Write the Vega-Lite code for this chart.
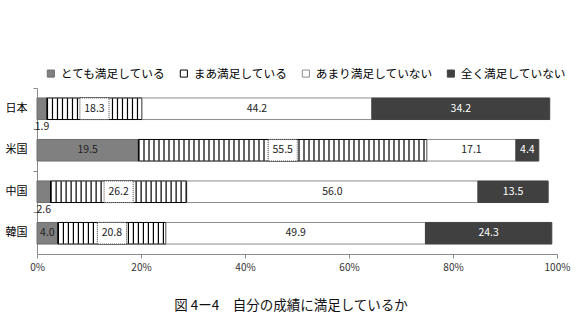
{
  "$schema": "https://vega.github.io/schema/vega-lite/v6.json",
  "width": 520,
  "height": 166,
  "autosize": "none",
  "padding": {"left": 37, "top": 88, "right": 21, "bottom": 71},
  "background": "white",
  "config": {"view": {"stroke": null}, "font": "Noto Sans CJK JP"},
  "title": {"text": "図 4ー4　自分の成績に満足しているか", "orient": "bottom", "fontSize": 13.5, "fontWeight": "normal", "offset": 27, "color": "#111", "dx": -6, "font": "Noto Sans CJK JP"},
  "data": {"values": [
    {"country": "日本", "cat": "とても満足している", "order": 1, "value": 1.9},
    {"country": "日本", "cat": "まあ満足している", "order": 2, "value": 18.3},
    {"country": "日本", "cat": "あまり満足していない", "order": 3, "value": 44.2},
    {"country": "日本", "cat": "全く満足していない", "order": 4, "value": 34.2},
    {"country": "米国", "cat": "とても満足している", "order": 1, "value": 19.5},
    {"country": "米国", "cat": "まあ満足している", "order": 2, "value": 55.5},
    {"country": "米国", "cat": "あまり満足していない", "order": 3, "value": 17.1},
    {"country": "米国", "cat": "全く満足していない", "order": 4, "value": 4.4},
    {"country": "中国", "cat": "とても満足している", "order": 1, "value": 2.6},
    {"country": "中国", "cat": "まあ満足している", "order": 2, "value": 26.2},
    {"country": "中国", "cat": "あまり満足していない", "order": 3, "value": 56.0},
    {"country": "中国", "cat": "全く満足していない", "order": 4, "value": 13.5},
    {"country": "韓国", "cat": "とても満足している", "order": 1, "value": 4.0},
    {"country": "韓国", "cat": "まあ満足している", "order": 2, "value": 20.8},
    {"country": "韓国", "cat": "あまり満足していない", "order": 3, "value": 49.9},
    {"country": "韓国", "cat": "全く満足していない", "order": 4, "value": 24.3}
  ]},
  "transform": [
    {"stack": "value", "groupby": ["country"], "sort": [{"field": "order", "order": "ascending"}], "as": ["x0", "x1"]},
    {"calculate": "(datum.x0 + datum.x1) / 2", "as": "mid"}
  ],
  "encoding": {
    "y": {
      "field": "country", "type": "nominal", "sort": ["日本", "米国", "中国", "韓国"],
      "scale": {"paddingInner": 0.48, "paddingOuter": 0.24},
      "axis": {"title": null, "domainColor": "#8c8c8c", "tickColor": "#8c8c8c", "tickSize": 4, "labelFontSize": 11, "labelPadding": 6, "labelColor": "#000", "bandPosition": -0.4615, "labelFont": "Noto Sans CJK JP"}
    }
  },
  "layer": [
    {
      "mark": {"type": "bar", "strokeWidth": 1},
      "encoding": {
        "x": {"field": "x0", "type": "quantitative", "title": null, "scale": {"domain": [0, 100]},
          "axis": {"values": [0, 20, 40, 60, 80, 100], "labelExpr": "datum.value + '%'", "labelFlush": false, "domainColor": "#8c8c8c", "tickColor": "#8c8c8c", "tickSize": 4, "labelFontSize": 10, "labelColor": "#333", "labelPadding": 4, "grid": false, "title": null, "labelFont": "Noto Sans CJK JP"}},
        "x2": {"field": "x1"},
        "fill": {"field": "cat", "type": "nominal", "sort": ["とても満足している", "まあ満足している", "あまり満足していない", "全く満足していない"],
          "scale": {"domain": ["とても満足している", "まあ満足している", "あまり満足していない", "全く満足していない"], "range": ["#808080", "#ffffff", "#ffffff", "#404040"]},
          "legend": {"orient": "none", "legendX": 8, "legendY": -20.5, "direction": "horizontal", "title": null, "symbolType": "square", "symbolSize": 50, "labelFontSize": 11.7, "labelOffset": 4, "columnPadding": 12, "symbolStrokeWidth": 1, "labelFont": "Noto Sans CJK JP", "labelColor": "#000"}},
        "stroke": {"field": "cat", "type": "nominal", "sort": ["とても満足している", "まあ満足している", "あまり満足していない", "全く満足していない"],
          "scale": {"domain": ["とても満足している", "まあ満足している", "あまり満足していない", "全く満足していない"], "range": ["#6e6e6e", "#000000", "#8c8c8c", "#404040"]},
          "legend": {"orient": "none", "legendX": 8, "legendY": -20.5, "direction": "horizontal", "title": null, "symbolType": "square", "symbolSize": 50, "labelFontSize": 11.7, "labelOffset": 4, "columnPadding": 12, "symbolStrokeWidth": 1, "labelFont": "Noto Sans CJK JP", "labelColor": "#000"}}
      }
    },
    {
      "transform": [{"filter": "datum.order == 2"}],
      "mark": {"type": "rule", "strokeWidth": 21, "strokeDash": [1.2, 3.8], "color": "#000", "strokeCap": "butt"},
      "encoding": {"x": {"field": "x0", "type": "quantitative", "title": null}, "x2": {"field": "x1"}}
    },
    {
      "transform": [{"filter": "datum.order == 2"}, {"calculate": "datum.mid - 2.8", "as": "b0"}, {"calculate": "datum.mid + 2.8", "as": "b1"}],
      "mark": {"type": "bar", "fill": "white", "stroke": "#444", "strokeDash": [1, 1], "strokeWidth": 1},
      "encoding": {"x": {"field": "b0", "type": "quantitative", "title": null}, "x2": {"field": "b1"}}
    },
    {
      "transform": [{"filter": "datum.value >= 3"}],
      "mark": {"type": "text", "fontSize": 10.5, "font": "Noto Sans CJK JP"},
      "encoding": {
        "x": {"field": "mid", "type": "quantitative", "title": null},
        "text": {"field": "value", "type": "quantitative", "format": ".1f"},
        "color": {"condition": {"test": "datum.order == 4", "value": "#ffffff"}, "value": "#222222"}
      }
    },
    {
      "transform": [{"filter": "datum.value < 3"}],
      "mark": {"type": "text", "fontSize": 10.5, "font": "Noto Sans CJK JP", "dy": 18, "color": "#222222"},
      "encoding": {
        "x": {"field": "mid", "type": "quantitative", "title": null},
        "text": {"field": "value", "type": "quantitative", "format": ".1f"}
      }
    }
  ]
}
